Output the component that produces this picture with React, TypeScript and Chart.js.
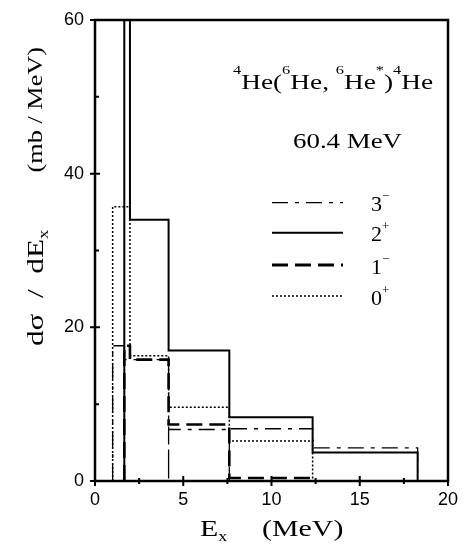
import React, { useEffect, useRef } from "react";
import { Chart, registerables } from "chart.js";
Chart.register(...registerables);

// Bin edges (MeV) and heights (mb/MeV) for each multipolarity
const EDGES_2P = [1.66, 1.98, 4.17, 7.61, 12.33, 18.28];
const VALUES_2P = [80, 34, 17, 8.3, 3.7];
const EDGES_0P = [1.0, 1.98, 4.17, 7.61, 12.33];
const VALUES_0P = [35.7, 16.3, 9.6, 5.2];
const EDGES_1M = [1.66, 1.98, 4.17, 7.61, 12.33];
const VALUES_1M = [17.6, 15.8, 7.35, 0.4];
const EDGES_3M = [1.0, 1.66, 4.17, 4.17, 7.61, 7.61, 12.33, 18.28];
const VALUES_3M = [17.6, 15.8, 0, 6.7, 0, 6.8, 4.3];

const X_MAJOR = [0, 5, 10, 15, 20];
const X_MINOR = [2.5, 7.5, 12.5, 17.5];
const Y_MAJOR = [0, 20, 40, 60];
const Y_MINOR = [10, 30, 50];

const LEGEND_ITEMS = [
  { digit: "3", sign: "\u2212", dash: [16, 7, 4, 7], width: 1.3 },
  { digit: "2", sign: "+", dash: [], width: 2 },
  { digit: "1", sign: "\u2212", dash: [16, 7], width: 3 },
  { digit: "0", sign: "+", dash: [2, 2], width: 1.5 },
];

type Run = { t: string; sup?: boolean; sub?: boolean };
const SERIF = '"Liberation Serif", "Times New Roman", serif';

function steps(edges: number[], vals: number[]) {
  const pts: { x: number; y: number }[] = [{ x: edges[0], y: 0 }];
  for (let i = 0; i < vals.length; i++) {
    pts.push({ x: edges[i], y: vals[i] });
    pts.push({ x: edges[i + 1], y: vals[i] });
  }
  pts.push({ x: edges[edges.length - 1], y: 0 });
  return pts;
}

function runsWidth(ctx: CanvasRenderingContext2D, runs: Run[], size: number) {
  let w = 0;
  for (const r of runs) {
    const fs = r.sup || r.sub ? size * 0.6 : size;
    ctx.font = `${fs}px ${SERIF}`;
    w += ctx.measureText(r.t).width;
  }
  return w;
}

function drawRuns(ctx: CanvasRenderingContext2D, runs: Run[], size: number, sx: number) {
  let cx = 0;
  ctx.save();
  ctx.scale(sx, 1);
  ctx.textBaseline = "alphabetic";
  ctx.textAlign = "left";
  for (const r of runs) {
    const fs = r.sup || r.sub ? size * 0.6 : size;
    ctx.font = `${fs}px ${SERIF}`;
    const dy = r.sup ? -size * 0.72 : r.sub ? size * 0.22 : 0;
    ctx.fillText(r.t, cx, dy);
    cx += ctx.measureText(r.t).width;
  }
  ctx.restore();
}

const decorPlugin = {
  id: "decor",
  afterDraw(chart: any) {
    const ctx: CanvasRenderingContext2D = chart.ctx;
    const { left, right, top, bottom } = chart.chartArea;
    const xs = chart.scales.x;
    const ys = chart.scales.y;
    ctx.save();
    ctx.fillStyle = "#000";
    ctx.strokeStyle = "#000";
    // frame
    ctx.lineWidth = 2.5;
    ctx.strokeRect(left, top, right - left, bottom - top);
    // ticks
    ctx.lineWidth = 2;
    ctx.beginPath();
    for (const v of Y_MAJOR) {
      const y = ys.getPixelForValue(v);
      ctx.moveTo(left - 5, y);
      ctx.lineTo(left + 5, y);
    }
    for (const v of Y_MINOR) {
      const y = ys.getPixelForValue(v);
      ctx.moveTo(left - 1, y);
      ctx.lineTo(left + 4, y);
    }
    for (const v of X_MAJOR) {
      const x = xs.getPixelForValue(v);
      ctx.moveTo(x, bottom + 5);
      ctx.lineTo(x, bottom - 5);
    }
    for (const v of X_MINOR) {
      const x = xs.getPixelForValue(v);
      ctx.moveTo(x, bottom + 3);
      ctx.lineTo(x, bottom - 3);
    }
    ctx.stroke();

    // header texts
    ctx.save();
    ctx.translate(233, 89);
    drawRuns(
      ctx,
      [
        { t: "4", sup: true },
        { t: "He(" },
        { t: "6", sup: true },
        { t: "He, " },
        { t: "6", sup: true },
        { t: "He" },
        { t: "*", sup: true },
        { t: ")" },
        { t: "4", sup: true },
        { t: "He" },
      ],
      21,
      1.3
    );
    ctx.restore();
    ctx.save();
    ctx.translate(293, 148);
    drawRuns(ctx, [{ t: "60.4 MeV" }], 21, 1.28);
    ctx.restore();

    // legend
    const legendY = [202.7, 232.7, 265, 296];
    LEGEND_ITEMS.forEach((it, i) => {
      const y = legendY[i];
      ctx.save();
      ctx.lineWidth = it.width;
      ctx.setLineDash(it.dash);
      ctx.beginPath();
      ctx.moveTo(272, y);
      ctx.lineTo(343, y);
      ctx.stroke();
      ctx.restore();
      ctx.save();
      ctx.translate(371, y + 8.5);
      ctx.font = `22px ${SERIF}`;
      ctx.textBaseline = "alphabetic";
      ctx.fillText(it.digit, 0, 0);
      const w = ctx.measureText(it.digit).width;
      ctx.font = `13px ${SERIF}`;
      ctx.fillText(it.sign, w, -11);
      ctx.restore();
    });

    // x title
    ctx.save();
    ctx.translate(200, 536);
    drawRuns(ctx, [{ t: "E" }, { t: "x", sub: true }], 23, 1.3);
    ctx.restore();
    ctx.save();
    ctx.translate(262, 536);
    drawRuns(ctx, [{ t: "(MeV)" }], 23, 1.3);
    ctx.restore();

    // y title (rotated)
    ctx.save();
    ctx.translate(43, 346);
    ctx.rotate(-Math.PI / 2);
    drawRuns(ctx, [{ t: "d\u03c3  /  dE" }, { t: "x", sub: true }], 24, 1.3);
    ctx.restore();
    const unitRuns: Run[] = [{ t: "(mb / MeV)" }];
    const uw = runsWidth(ctx, unitRuns, 21) * 1.25;
    ctx.save();
    ctx.translate(42, 47 + uw);
    ctx.rotate(-Math.PI / 2);
    drawRuns(ctx, unitRuns, 21, 1.25);
    ctx.restore();

    ctx.restore();
  },
};

export default function App() {
  const ref = useRef<HTMLCanvasElement | null>(null);
  useEffect(() => {
    if (!ref.current) return;
    const common = { pointRadius: 0, borderColor: "#000", fill: false, tension: 0 };
    const chart = new Chart(ref.current, {
      type: "line",
      data: {
        datasets: [
          { ...common, label: "3-", data: steps(EDGES_3M, VALUES_3M), borderWidth: 1.3, borderDash: [16, 7, 4, 7] },
          { ...common, label: "2+", data: steps(EDGES_2P, VALUES_2P), borderWidth: 2 },
          { ...common, label: "1-", data: steps(EDGES_1M, VALUES_1M), borderWidth: 2.6, borderDash: [16, 7] },
          { ...common, label: "0+", data: steps(EDGES_0P, VALUES_0P), borderWidth: 1.5, borderDash: [2, 2] },
        ] as any,
      },
      options: {
        animation: false,
        responsive: false,
        devicePixelRatio: 1,
        layout: { padding: { top: 10, right: 21, left: 0, bottom: 0 } },
        plugins: { legend: { display: false }, tooltip: { enabled: false } },
        scales: {
          x: {
            type: "linear",
            min: 0,
            max: 20,
            grid: { display: false, drawTicks: false },
            border: { display: false },
            ticks: {
              stepSize: 5,
              autoSkip: false,
              maxRotation: 0,
              padding: 10,
              color: "#000",
              font: { family: '"Liberation Sans", Arial, sans-serif', size: 18, lineHeight: 1 },
            },
            afterFit: (s: any) => {
              s.height = 69;
            },
          },
          y: {
            type: "linear",
            min: 0,
            max: 60,
            grid: { display: false, drawTicks: false },
            border: { display: false },
            ticks: {
              stepSize: 20,
              padding: 11,
              color: "#000",
              font: { family: '"Liberation Sans", Arial, sans-serif', size: 18, lineHeight: 1 },
            },
            afterFit: (s: any) => {
              s.width = 95;
            },
          },
        },
      } as any,
      plugins: [decorPlugin],
    });
    return () => chart.destroy();
  }, []);
  return (
    <div style={{ position: "fixed", left: 0, top: 0, width: 469, height: 550, background: "#fff" }}>
      <canvas ref={ref} width={469} height={550} style={{ display: "block" }} />
    </div>
  );
}
